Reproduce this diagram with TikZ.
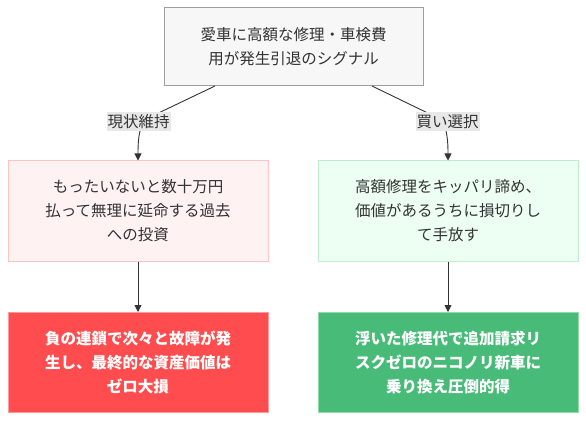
\documentclass[tikz,border=0pt]{standalone}
\usepackage{fontspec}
\setmainfont{Noto Sans CJK JP}
\usetikzlibrary{arrows.meta}
\definecolor{txt}{HTML}{333333}
\definecolor{topfill}{HTML}{F7F7F7}
\definecolor{topdraw}{HTML}{9E9E9E}
\definecolor{pinkfill}{HTML}{FFF2F2}
\definecolor{pinkdraw}{HTML}{FFC4C4}
\definecolor{mintfill}{HTML}{EDFFF2}
\definecolor{mintdraw}{HTML}{BDEFCF}
\definecolor{redfill}{HTML}{FF4D4F}
\definecolor{reddraw}{HTML}{FF9A9A}
\definecolor{greenfill}{HTML}{48BB78}
\definecolor{greendraw}{HTML}{8FDCA9}
\definecolor{lblfill}{HTML}{E8E8E8}
\definecolor{edge}{HTML}{333333}
\begin{document}
\begin{tikzpicture}[x=1pt,y=-1pt,
  every node/.style={font=\fontsize{15.5}{24}\selectfont, text=txt, align=center, inner sep=0pt},
  box/.style={draw, line width=1pt, minimum width=260pt, minimum height=100pt},
  topbox/.style={draw=topdraw, fill=topfill, line width=1pt, minimum width=259pt, minimum height=78pt},
  pinkbox/.style={box, draw=pinkdraw, fill=pinkfill},
  mintbox/.style={box, draw=mintdraw, fill=mintfill},
  redbox/.style={box, draw=reddraw, fill=redfill, text=white, font=\fontsize{15.5}{24}\selectfont\bfseries},
  greenbox/.style={box, draw=greendraw, fill=greenfill, text=white, font=\fontsize{15.5}{24}\selectfont\bfseries},
  lbl/.style={fill=lblfill, inner xsep=1pt, inner ysep=2pt},
  arr/.style={draw=edge, line width=0.9pt, -{Triangle[length=7pt,width=7pt]}},
  ln/.style={draw=edge, line width=0.9pt}
]
\useasboundingbox (0,0) rectangle (586,422);
\fill[white] (0,0) rectangle (586,422);

\node[topbox] (top) at (293.5,47) {愛車に高額な修理・車検費\\用が発生引退のシグナル};
\node[pinkbox] (pl) at (138,211) {もったいないと数十万円\\払って無理に延命する過去\\への投資};
\node[mintbox] (pr) at (448,211) {高額修理をキッパリ諦め、\\価値があるうちに損切りし\\て手放す};
\node[redbox] (bl) at (138,362.5) {負の連鎖で次々と故障が発\\生し、最終的な資産価値は\\ゼロ大損};
\node[greenbox] (br) at (448,362.5) {浮いた修理代で追加請求リ\\スクゼロのニコノリ新車に\\乗り換え圧倒的得};

\coordinate (ls) at (215,86);
\coordinate (rs) at (372,86);
\coordinate (lm) at (148,118);
\coordinate (rm) at (438,118);

\draw[arr] (ls) -- (lm) .. controls (140,124) and (138,135) .. (pl.north);
\draw[arr] (rs) -- (rm) .. controls (446,124) and (448,135) .. (pr.north);
\node[lbl] (l1) at (138.5,121.5) {現状維持};
\node[lbl] (l2) at (447.5,121.5) {買い選択};

\draw[arr] (pl.south) -- (bl.north);
\draw[arr] (pr.south) -- (br.north);
\end{tikzpicture}
\end{document}
